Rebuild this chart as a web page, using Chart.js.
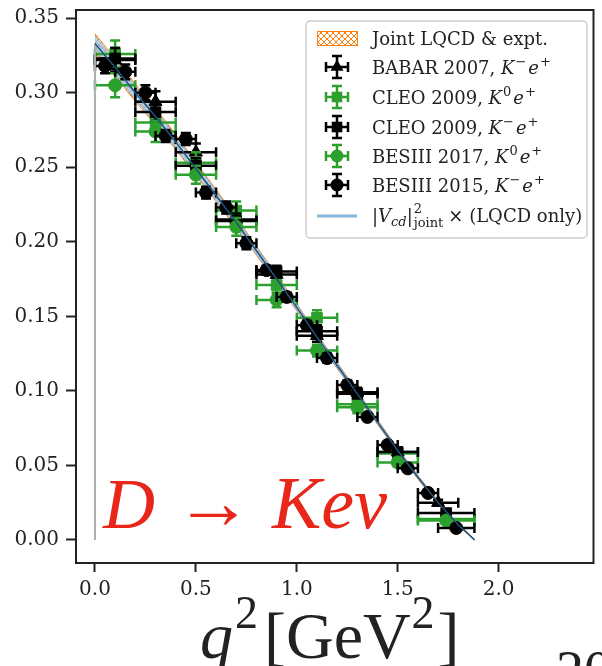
<!DOCTYPE html>
<html>
<head>
<meta charset="utf-8">
<title>D to K e nu differential rate</title>
<script src="https://cdn.jsdelivr.net/npm/chart.js@4.4.1/dist/chart.umd.min.js"></script>
<style>
  html, body { margin: 0; padding: 0; background: #ffffff; overflow: hidden; }
  #wrap { position: relative; width: 602px; height: 666px; }
</style>
</head>
<body>
<div id="wrap"><canvas id="rateChart" width="602" height="666"></canvas></div>
<script>
/* ============================================
   DATA
   ============================================ */

// Ticks
const xTicks = [0.0, 0.5, 1.0, 1.5, 2.0];
const yTicks = [0.0, 0.05, 0.1, 0.15, 0.2, 0.25, 0.3, 0.35];

// Joint LQCD & expt. curve (centre) and band half widths
const curveQ2 = [0, 0.1, 0.2, 0.3, 0.4, 0.5, 0.6, 0.7, 0.8, 0.9, 1.0, 1.1, 1.2, 1.3, 1.4, 1.5, 1.6, 1.7, 1.8, 1.85, 1.88];
const curveRate = [0.333, 0.317, 0.300, 0.284, 0.267, 0.249, 0.231, 0.213, 0.194, 0.175, 0.156, 0.136, 0.117, 0.098, 0.079, 0.060, 0.042, 0.025, 0.010, 0.004, 0.0];
const jointHalfWidth = [0.0065, 0.006, 0.0058, 0.0055, 0.005, 0.0045, 0.004, 0.0035, 0.003, 0.0027, 0.0024, 0.0022, 0.002, 0.0018, 0.0016, 0.0014, 0.0012, 0.001, 0.0007, 0.0005, 0.0003];
const lqcdHalfWidth = [0.005, 0.0048, 0.0046, 0.0044, 0.004, 0.0036, 0.0032, 0.0028, 0.0025, 0.0022, 0.002, 0.0018, 0.0016, 0.0015, 0.0013, 0.0012, 0.001, 0.0008, 0.0006, 0.0004, 0.0002];

// BABAR 2007, K- e+
const babarQ2 = [0.1, 0.3, 0.5, 0.7, 0.9, 1.1, 1.3, 1.5, 1.7];
const babarQ2Err = [0.1, 0.1, 0.1, 0.1, 0.1, 0.1, 0.1, 0.1, 0.1];
const babarRate = [0.322, 0.294, 0.260, 0.215, 0.178, 0.137, 0.099, 0.059, 0.025];
const babarErr = [0.008, 0.007, 0.006, 0.005, 0.005, 0.004, 0.003, 0.003, 0.002];

// CLEO 2009 (both channels share the bins)
const cleoQ2 = [0.1, 0.3, 0.5, 0.7, 0.9, 1.1, 1.3, 1.5, 1.74];
const cleoQ2Err = [0.1, 0.1, 0.1, 0.1, 0.1, 0.1, 0.1, 0.1, 0.14];
const cleoK0Rate = [0.326, 0.280, 0.253, 0.221, 0.171, 0.149, 0.091, 0.058, 0.014];
const cleoK0Err = [0.009, 0.008, 0.007, 0.006, 0.006, 0.005, 0.004, 0.003, 0.002];
const cleoKmRate = [0.323, 0.287, 0.251, 0.214, 0.180, 0.140, 0.098, 0.059, 0.018];
const cleoKmErr = [0.007, 0.006, 0.005, 0.005, 0.004, 0.004, 0.003, 0.002, 0.002];

// BESIII 2017, K0 e+
const bes17Q2 = [0.1, 0.3, 0.5, 0.7, 0.9, 1.1, 1.3, 1.5, 1.74];
const bes17Q2Err = [0.1, 0.1, 0.1, 0.1, 0.1, 0.1, 0.1, 0.1, 0.14];
const bes17Rate = [0.305, 0.274, 0.245, 0.210, 0.161, 0.127, 0.089, 0.052, 0.013];
const bes17Err = [0.008, 0.007, 0.006, 0.006, 0.005, 0.004, 0.004, 0.003, 0.002];

// BESIII 2015, K- e+
const bes15Q2 = [0.05, 0.15, 0.25, 0.35, 0.45, 0.55, 0.65, 0.75, 0.85, 0.95, 1.05, 1.15, 1.25, 1.35, 1.45, 1.55, 1.65, 1.79];
const bes15Q2Err = [0.05, 0.05, 0.05, 0.05, 0.05, 0.05, 0.05, 0.05, 0.05, 0.05, 0.05, 0.05, 0.05, 0.05, 0.05, 0.05, 0.05, 0.09];
const bes15Rate = [0.318, 0.314, 0.300, 0.271, 0.269, 0.233, 0.223, 0.199, 0.181, 0.163, 0.144, 0.122, 0.104, 0.0825, 0.0637, 0.048, 0.0315, 0.008];
const bes15Err = [0.005, 0.005, 0.005, 0.004, 0.004, 0.004, 0.004, 0.004, 0.003, 0.003, 0.003, 0.003, 0.003, 0.002, 0.002, 0.002, 0.002, 0.001];

/* ============================================
   STYLE HELPERS
   ============================================ */

const SERIF = '"DejaVu Serif", serif';
const TIMES = '"Liberation Serif", "DejaVu Serif", serif';
const GREEN = "#2ca02c";
const BLACK = "#000000";
const ORANGE = "#ff7f0e";
const INK = "#222222";

function points(xs, ys) {
  return xs.map((x, i) => ({ x: x, y: ys[i] }));
}

// orange cross hatch like matplotlib "xxxx"
function makeHatch(ctx) {
  const c = document.createElement("canvas");
  c.width = 6;
  c.height = 6;
  const g = c.getContext("2d");
  g.strokeStyle = ORANGE;
  g.lineWidth = 1;
  g.beginPath();
  g.moveTo(0, 0); g.lineTo(6, 6);
  g.moveTo(6, 0); g.lineTo(0, 6);
  g.stroke();
  return ctx.createPattern(c, "repeat");
}

function drawErrorBar(ctx, x, y, x0, x1, y0, y1, cap) {
  ctx.beginPath();
  ctx.moveTo(x0, y); ctx.lineTo(x1, y);
  ctx.moveTo(x, y0); ctx.lineTo(x, y1);
  ctx.moveTo(x0, y - cap); ctx.lineTo(x0, y + cap);
  ctx.moveTo(x1, y - cap); ctx.lineTo(x1, y + cap);
  ctx.moveTo(x - cap, y0); ctx.lineTo(x + cap, y0);
  ctx.moveTo(x - cap, y1); ctx.lineTo(x + cap, y1);
  ctx.stroke();
}

function drawMarker(ctx, style, x, y, r) {
  ctx.beginPath();
  if (style === "circle") {
    ctx.arc(x, y, r, 0, Math.PI * 2);
  } else if (style === "rect") {
    const s = r * Math.SQRT1_2;
    ctx.rect(x - s, y - s, 2 * s, 2 * s);
  } else {
    ctx.moveTo(x, y - r);
    ctx.lineTo(x + r * 0.866, y + r * 0.5);
    ctx.lineTo(x - r * 0.866, y + r * 0.5);
    ctx.closePath();
  }
  ctx.fill();
}

// draws a run of text pieces (for super/subscripts), returns end x
function drawRich(ctx, x, y, parts) {
  parts.forEach((p) => {
    if (p.stack) {
      ctx.font = p.font;
      const wUp = ctx.measureText(p.up).width;
      ctx.fillText(p.up, x + 1, y - p.upRise);
      ctx.font = p.downFont;
      const wDown = ctx.measureText(p.down).width;
      ctx.fillText(p.down, x + 1, y + p.downDrop);
      x += Math.max(wUp, wDown) + 3;
      return;
    }
    ctx.font = p.font;
    x += p.dx || 0;
    ctx.fillText(p.t, x, y - (p.rise || 0));
    x += ctx.measureText(p.t).width;
  });
  return x;
}

/* ============================================
   PLUGINS: error bars, frame, legend, labels
   ============================================ */

const errorBarPlugin = {
  id: "errorBars",
  beforeDatasetDraw(chart, args) {
    const ds = chart.data.datasets[args.index];
    if (!ds.xErr) return;
    const ctx = chart.ctx;
    const xs = chart.scales.x;
    const ys = chart.scales.y;
    ctx.save();
    ctx.strokeStyle = ds.backgroundColor;
    ctx.lineWidth = 2.5;
    ds.data.forEach((p, i) => {
      drawErrorBar(
        ctx,
        xs.getPixelForValue(p.x),
        ys.getPixelForValue(p.y),
        xs.getPixelForValue(p.x - ds.xErr[i]),
        xs.getPixelForValue(p.x + ds.xErr[i]),
        ys.getPixelForValue(p.y + ds.yErr[i]),
        ys.getPixelForValue(p.y - ds.yErr[i]),
        5
      );
    });
    ctx.restore();
  },
};

const decorPlugin = {
  id: "decor",
  afterDraw(chart) {
    const ctx = chart.ctx;
    const a = chart.chartArea;
    ctx.save();

    // axes frame
    ctx.strokeStyle = INK;
    ctx.lineWidth = 2;
    ctx.strokeRect(a.left, a.top, a.right - a.left, a.bottom - a.top);

    // big red process label
    ctx.fillStyle = "#e8261a";
    ctx.textBaseline = "alphabetic";
    drawRich(ctx, 103, 528, [
      { t: "D", font: "italic 72px " + TIMES },
      { t: " \u2192 ", font: "78px " + TIMES },
      { t: "Ke\u03bd", font: "italic 74px " + TIMES },
    ]);

    // x axis title
    ctx.fillStyle = INK;
    drawRich(ctx, 200, 658, [
      { t: "q", font: "italic 66px " + TIMES },
      { t: "2", font: "46px " + TIMES, rise: 30, dx: 2 },
      { t: "[GeV", font: "66px " + TIMES, dx: 6 },
      { t: "2", font: "46px " + TIMES, rise: 30, dx: 1 },
      { t: "]", font: "66px " + TIMES, dx: 3 },
    ]);
    // cut-off text at the bottom right
    ctx.font = "56px " + TIMES;
    ctx.fillText("20", 556, 690);

    // legend box
    const lx = 306, ly = 21, lw = 281, lh = 217;
    ctx.fillStyle = "rgba(255,255,255,0.85)";
    ctx.strokeStyle = "#cccccc";
    ctx.lineWidth = 1.5;
    ctx.beginPath();
    ctx.roundRect(lx, ly, lw, lh, 4);
    ctx.fill();
    ctx.stroke();

    const iconX = 337;
    const textX = 372;
    const rows = [38, 67, 97, 127, 156, 185, 216];

    // hatched patch
    ctx.fillStyle = makeHatch(ctx);
    ctx.fillRect(317, 31, 40, 14);
    ctx.strokeStyle = ORANGE;
    ctx.lineWidth = 1;
    ctx.strokeRect(317.5, 31.5, 40, 14);

    const f = "18px " + SERIF;
    const fi = "italic 18px " + SERIF;
    const fs = "13px " + SERIF;
    const fsi = "italic 13px " + SERIF;

    const entries = [
      { style: "triangle", color: BLACK, text: "BABAR 2007, ", sup: "\u2212" },
      { style: "rect", color: GREEN, text: "CLEO 2009, ", sup: "0" },
      { style: "rect", color: BLACK, text: "CLEO 2009, ", sup: "\u2212" },
      { style: "circle", color: GREEN, text: "BESIII 2017, ", sup: "0" },
      { style: "circle", color: BLACK, text: "BESIII 2015, ", sup: "\u2212" },
    ];

    ctx.fillStyle = INK;
    drawRich(ctx, textX, rows[0] + 7, [{ t: "Joint LQCD & expt.", font: f }]);

    entries.forEach((e, i) => {
      const y = rows[i + 1];
      ctx.strokeStyle = e.color;
      ctx.fillStyle = e.color;
      ctx.lineWidth = 2.5;
      drawErrorBar(ctx, iconX, y, iconX - 11, iconX + 11, y - 11, y + 11, 5);
      drawMarker(ctx, e.style, iconX, y, e.style === "circle" ? 6.5 : 7.5);
      ctx.fillStyle = INK;
      drawRich(ctx, textX, y + 7, [
        { t: e.text, font: f },
        { t: "K", font: fi },
        { t: e.sup, font: fs, rise: 8, dx: 1 },
        { t: "e", font: fi, dx: 2 },
        { t: "+", font: fs, rise: 8, dx: 1 },
      ]);
    });

    // LQCD-only line entry
    const yl = rows[6];
    ctx.strokeStyle = "#8ab6d8";
    ctx.lineWidth = 3;
    ctx.beginPath();
    ctx.moveTo(317, yl);
    ctx.lineTo(357, yl);
    ctx.stroke();
    ctx.fillStyle = INK;
    drawRich(ctx, textX, yl + 6, [
      { t: "|", font: f },
      { t: "V", font: fi },
      { t: "cd", font: fsi, rise: -4 },
      { t: "|", font: f },
      { stack: true, up: "2", down: "joint", font: fs, downFont: fs, upRise: 9, downDrop: 5 },
      { t: "\u00d7 (LQCD only)", font: f, dx: 3 },
    ]);

    ctx.restore();
  },
};

/* ============================================
   CHART
   ============================================ */

document.addEventListener("DOMContentLoaded", function () {
  createRateChart();
});

function createRateChart() {
  const ctx = document.getElementById("rateChart").getContext("2d");
  const hatch = makeHatch(ctx);

  const jointUpper = curveRate.map((v, i) => v + jointHalfWidth[i]);
  const jointLower = curveRate.map((v, i) => v - jointHalfWidth[i]);
  const lqcdUpper = curveRate.map((v, i) => v + lqcdHalfWidth[i]);
  const lqcdLower = curveRate.map((v, i) => v - lqcdHalfWidth[i]);

  const lineBase = {
    type: "line",
    pointRadius: 0,
    tension: 0,
    fill: false,
  };

  const markerSet = (label, style, color, xs, xErr, ys, yErr, radius, order) => ({
    type: "scatter",
    label: label,
    data: points(xs, ys),
    xErr: xErr,
    yErr: yErr,
    pointStyle: style,
    pointRadius: radius,
    backgroundColor: color,
    borderColor: color,
    borderWidth: 1,
    order: order,
  });

  new Chart(ctx, {
    type: "scatter",
    data: {
      datasets: [
        // joint band (orange hatch)
        Object.assign({}, lineBase, {
          label: "Joint LQCD & expt.",
          data: points(curveQ2, jointUpper),
          borderColor: ORANGE,
          borderWidth: 1,
          backgroundColor: hatch,
          fill: "+1",
          order: 9,
        }),
        Object.assign({}, lineBase, {
          data: points(curveQ2, jointLower),
          borderColor: ORANGE,
          borderWidth: 1,
          order: 8,
        }),
        // LQCD only band (light blue)
        Object.assign({}, lineBase, {
          data: points(curveQ2, lqcdUpper),
          borderColor: "rgba(140,185,220,0.9)",
          borderWidth: 1,
          backgroundColor: "rgba(150,195,228,0.75)",
          fill: "+1",
          order: 7,
        }),
        Object.assign({}, lineBase, {
          data: points(curveQ2, lqcdLower),
          borderColor: "rgba(140,185,220,0.9)",
          borderWidth: 1,
          order: 6,
        }),
        markerSet("BABAR 2007", "triangle", BLACK, babarQ2, babarQ2Err, babarRate, babarErr, 7.5, 5),
        markerSet("CLEO 2009 K0", "rect", GREEN, cleoQ2, cleoQ2Err, cleoK0Rate, cleoK0Err, 7.5, 4),
        markerSet("CLEO 2009 K-", "rect", BLACK, cleoQ2, cleoQ2Err, cleoKmRate, cleoKmErr, 7.5, 3),
        markerSet("BESIII 2017", "circle", GREEN, bes17Q2, bes17Q2Err, bes17Rate, bes17Err, 6.5, 2),
        markerSet("BESIII 2015", "circle", BLACK, bes15Q2, bes15Q2Err, bes15Rate, bes15Err, 6.5, 1),
        // central line
        Object.assign({}, lineBase, {
          label: "LQCD only",
          data: points(curveQ2, curveRate),
          borderColor: "#23527c",
          borderWidth: 1.5,
          order: 0,
        }),
        // vertical grey edge at q2 = 0
        Object.assign({}, lineBase, {
          data: [{ x: curveQ2[0], y: 0 }, { x: curveQ2[0], y: curveRate[0] }],
          borderColor: "#a7b0b6",
          borderWidth: 2,
          order: 0,
        }),
      ],
    },
    options: {
      responsive: false,
      devicePixelRatio: 1,
      animation: false,
      layout: { padding: { top: 10, right: 5, left: 0, bottom: 0 } },
      plugins: {
        legend: { display: false },
        tooltip: { enabled: false },
      },
      scales: {
        x: {
          type: "linear",
          min: -0.094,
          max: 2.47,
          afterBuildTicks: (scale) => {
            scale.ticks = xTicks.map((v) => ({ value: v }));
          },
          afterFit: (scale) => {
            scale.height = 103;
            scale.paddingLeft = 0;
            scale.paddingRight = 0;
          },
          grid: {
            drawOnChartArea: false,
            drawTicks: true,
            tickLength: 9,
            tickWidth: 2,
            tickColor: INK,
          },
          border: { display: false },
          ticks: {
            padding: 6,
            color: INK,
            font: { family: SERIF, size: 20 },
            maxRotation: 0,
            callback: (v) => Number(v).toFixed(1),
          },
        },
        y: {
          type: "linear",
          min: -0.0155,
          max: 0.3555,
          afterBuildTicks: (scale) => {
            scale.ticks = yTicks.map((v) => ({ value: v }));
          },
          afterFit: (scale) => {
            scale.width = 76;
            scale.paddingTop = 0;
            scale.paddingBottom = 0;
          },
          grid: {
            drawOnChartArea: false,
            drawTicks: true,
            tickLength: 10,
            tickWidth: 2,
            tickColor: INK,
          },
          border: { display: false },
          ticks: {
            padding: 7,
            color: INK,
            font: { family: SERIF, size: 20 },
            callback: (v) => Number(v).toFixed(2),
          },
        },
      },
    },
    plugins: [errorBarPlugin, decorPlugin],
  });
}
</script>
</body>
</html>
